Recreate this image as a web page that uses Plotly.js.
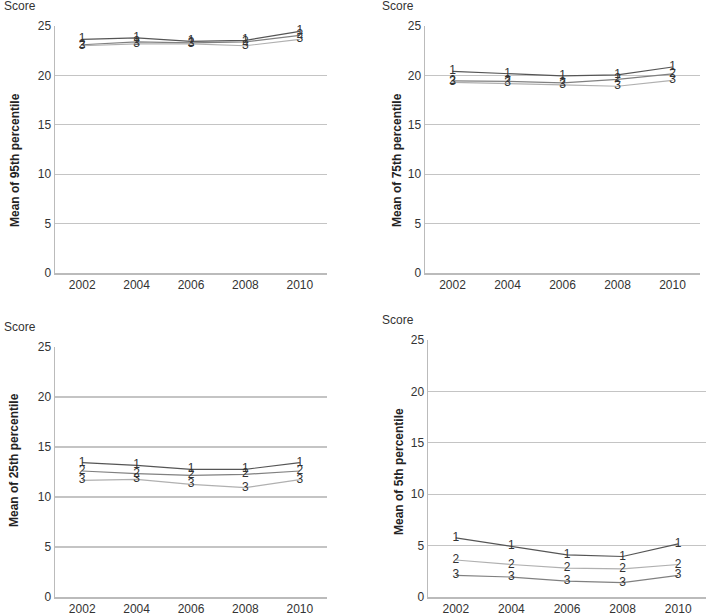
<!DOCTYPE html>
<html>
<head>
<meta charset="utf-8">
<script src="https://cdn.plot.ly/plotly-3.0.1.min.js"></script>
<style>html,body{margin:0;padding:0;background:#fff;}#chart{width:709px;height:616px;}</style>
</head>
<body>
<div id="chart"></div>
<script>
// Categories
const years = ['2002', '2004', '2006', '2008', '2010'];
const seriesLabels = ['1', '2', '3'];
const yTicks = [0, 5, 10, 15, 20, 25];

// Mean of 95th percentile
const p95_g1 = [23.65, 23.8, 23.45, 23.55, 24.45];
const p95_g2 = [23.1, 23.4, 23.3, 23.4, 24.05];
const p95_g3 = [23.0, 23.2, 23.2, 23.0, 23.65];

// Mean of 75th percentile
const p75_g1 = [20.4, 20.15, 19.95, 20.05, 20.85];
const p75_g2 = [19.45, 19.4, 19.25, 19.6, 20.15];
const p75_g3 = [19.3, 19.2, 19.05, 18.9, 19.5];

// Mean of 25th percentile
const p25_g1 = [13.43, 13.17, 12.77, 12.77, 13.43];
const p25_g2 = [12.6, 12.33, 12.17, 12.27, 12.6];
const p25_g3 = [11.67, 11.77, 11.27, 10.93, 11.73];

// Mean of 5th percentile
const p5_g1 = [5.75, 4.95, 4.1, 3.94, 5.16];
const p5_g2 = [3.6, 3.16, 2.8, 2.74, 3.16];
const p5_g3 = [2.1, 1.94, 1.55, 1.39, 2.1];

const panelTitles = ['Mean of 95th percentile', 'Mean of 75th percentile', 'Mean of 25th percentile', 'Mean of 5th percentile'];

const W = 709, H = 616;
const FONT = 'Liberation Sans, Arial, sans-serif';
const dark = '#555555', mid = '#808080', light = '#b0b0b0';

const panels = [
  {data: [p95_g1, p95_g2, p95_g3], colors: [dark, mid, light], x0: 55, x1: 327, yt: 26, yb: 273, score: [2, 6], title: [15, 160]},
  {data: [p75_g1, p75_g2, p75_g3], colors: [dark, mid, light], x0: 425, x1: 700, yt: 26, yb: 273, score: [380, 6], title: [397, 160]},
  {data: [p25_g1, p25_g2, p25_g3], colors: [dark, mid, light], x0: 55, x1: 327, yt: 347, yb: 597, score: [2, 327], title: [14, 460]},
  {data: [p5_g1, p5_g2, p5_g3], colors: [dark, light, mid], x0: 428, x1: 706, yt: 340, yb: 597, score: [380, 320], title: [399, 472]}
];

const traces = [];
const layout = {
  width: W, height: H,
  margin: {l: 0, r: 0, t: 0, b: 0},
  paper_bgcolor: '#fff', plot_bgcolor: '#fff',
  showlegend: false,
  font: {family: FONT, size: 12, color: '#333'},
  annotations: []
};

panels.forEach((p, i) => {
  const n = i + 1;
  const xa = 'x' + (n === 1 ? '' : n), ya = 'y' + (n === 1 ? '' : n);
  p.data.forEach((vals, k) => {
    traces.push({
      type: 'scatter', mode: 'lines+text',
      x: years, y: vals,
      text: vals.map(() => seriesLabels[k]),
      textposition: 'middle center',
      textfont: {family: FONT, size: 12, color: '#333'},
      line: {color: p.colors[k], width: 1.2},
      xaxis: xa, yaxis: ya,
      cliponaxis: false, hoverinfo: 'skip'
    });
  });
  layout['xaxis' + (n === 1 ? '' : n)] = {
    domain: [p.x0 / W, p.x1 / W],
    anchor: ya, type: 'category', range: [-0.5, 4.5],
    showline: true, linecolor: '#bbbbbb', linewidth: 1.5,
    showgrid: false, zeroline: false, ticks: '',
    tickfont: {family: FONT, size: 12, color: '#333'}, fixedrange: true
  };
  layout['yaxis' + (n === 1 ? '' : n)] = {
    domain: [1 - p.yb / H, 1 - p.yt / H],
    anchor: xa, range: [0, 25], tickvals: yTicks,
    showline: true, linecolor: '#bbbbbb', linewidth: 1.5,
    showgrid: true, gridcolor: '#c4c4c4', gridwidth: 1.2, zeroline: false, ticks: '',
    tickfont: {family: FONT, size: 12, color: '#333'}, fixedrange: true
  };
  layout.annotations.push({
    text: 'Score', xref: 'paper', yref: 'paper',
    x: p.score[0] / W, y: 1 - p.score[1] / H,
    xanchor: 'left', yanchor: 'middle', showarrow: false,
    font: {family: FONT, size: 12, color: '#333'}
  });
  layout.annotations.push({
    text: '<b>' + panelTitles[i] + '</b>', xref: 'paper', yref: 'paper',
    x: p.title[0] / W, y: 1 - p.title[1] / H, textangle: -90,
    xanchor: 'center', yanchor: 'middle', showarrow: false,
    font: {family: FONT, size: 12, color: '#222'}
  });
});

Plotly.newPlot('chart', traces, layout, {staticPlot: true, displayModeBar: false});
</script>
</body>
</html>
